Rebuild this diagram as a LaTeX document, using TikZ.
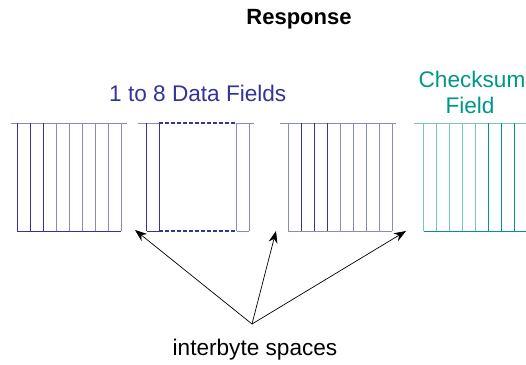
\documentclass[tikz,border=0pt]{standalone}
\usepackage{fontspec}
\setmainfont{Liberation Sans}
\usetikzlibrary{arrows.meta, positioning}
\definecolor{fieldblue}{RGB}{51,51,153}
\definecolor{paleblue}{RGB}{138,138,194}
\definecolor{sumteal}{RGB}{0,150,136}
\definecolor{paleteal}{RGB}{118,198,188}

\begin{document}
\begin{tikzpicture}[
    x=1pt, y=-1pt,
    byteline/.style={line width=1pt},
    dotline/.style={fieldblue, line width=2.2pt, dash pattern=on 3.6pt off 2.4pt},
    label/.style={font=\fontsize{22.6}{26}\selectfont, inner sep=0pt, anchor=base},
    >={Stealth[length=12pt, width=9pt]}
  ]
  \useasboundingbox (0,0) rectangle (526,364);

  % Title
  \node[font=\bfseries\fontsize{22}{26}\selectfont, inner sep=0pt, anchor=base]
    (title) at (299,24) {Response};

  % Labels
  \node[label, anchor=base west, fieldblue] (data) at (109,101) {1 to 8 Data Fields};
  \node[label, sumteal] (chk) at (472,87) {Checksum};
  \node[label, sumteal] (chkfield) at (470,113) {Field};

  % First data field
  \draw[byteline, paleblue] (11,123) -- (127,123);
  \foreach \c [count=\i from 0] in {fieldblue,fieldblue,fieldblue,paleblue,
      paleblue,paleblue,paleblue,paleblue,paleblue} {
    \draw[byteline, \c] (17.3+\i*13,123) -- (17.3+\i*13,231);
  }
  \draw[byteline, fieldblue] (17.3,231) -- (121.3,231);

  % Middle data fields (left out)
  \draw[byteline, paleblue] (138,123) -- (159.3,123);
  \draw[byteline, paleblue] (236.7,123) -- (254.3,123);
  \draw[dotline] (159.3,123) -- (236.7,123);
  \foreach \x/\c in {146.7/fieldblue,159.3/fieldblue,236.7/paleblue,249.3/paleblue} {
    \draw[byteline, \c] (\x,123) -- (\x,231);
  }
  \draw[byteline, fieldblue] (146.7,231) -- (159.3,231);
  \draw[byteline, paleblue] (236.7,231) -- (249.3,231);
  \draw[dotline] (159.3,231) -- (236.7,231);

  % Last data field
  \draw[byteline, paleblue] (280,123) -- (395.7,123);
  \foreach \c [count=\i from 0] in {paleblue,fieldblue,fieldblue,fieldblue,
      paleblue,paleblue,paleblue,paleblue,paleblue} {
    \draw[byteline, \c] (288.3+\i*13,123) -- (288.3+\i*13,231);
  }
  \draw[byteline, paleblue] (288.3,231) -- (392.3,231);

  % Checksum field
  \draw[byteline, paleteal] (414,123) -- (526,123);
  \foreach \c [count=\i from 0] in {paleteal,paleteal,paleteal,paleteal,
      paleteal,sumteal,sumteal,sumteal} {
    \draw[byteline, \c] (423.7+\i*13,123) -- (423.7+\i*13,231);
  }
  \draw[byteline, sumteal] (423.7,231) -- (526,231);

  % Pointers to the gaps
  \node[label] (spaces) at (255,355) {interbyte spaces};
  \coordinate (hub) at (252,324);
  \coordinate (gapA) at (135,230);
  \coordinate (gapB) at (276,231);
  \coordinate (gapC) at (406,231);
  \foreach \g in {gapA,gapB,gapC} {
    \draw[->, line width=0.7pt] (hub) -- (\g);
  }
\end{tikzpicture}
\end{document}
